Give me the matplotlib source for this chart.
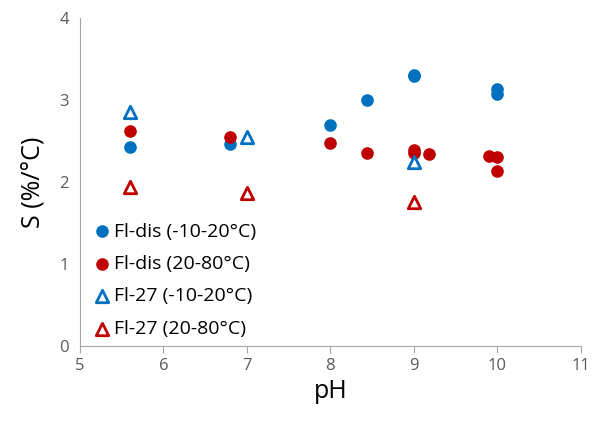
import matplotlib
matplotlib.use("Agg")
import matplotlib.pyplot as plt

# данные
fldis_cold_ph = [5.6, 6.8, 8.0, 8.44, 9.0, 9.0, 10.0, 10.0]
fldis_cold_s = [2.43, 2.46, 2.70, 3.00, 3.31, 3.29, 3.14, 3.07]
fldis_warm_ph = [5.6, 6.8, 8.0, 8.44, 9.0, 9.0, 9.18, 9.9, 10.0, 10.0]
fldis_warm_s = [2.62, 2.55, 2.48, 2.36, 2.39, 2.35, 2.34, 2.32, 2.31, 2.14]
fl27_cold_ph = [5.6, 7.0, 9.0]
fl27_cold_s = [2.85, 2.55, 2.24]
fl27_warm_ph = [5.6, 7.0, 9.0]
fl27_warm_s = [1.94, 1.87, 1.76]

BLUE = "#0070C0"
RED = "#C00000"

plt.rcParams["font.family"] = ["Open Sans", "DejaVu Sans"]

fig = plt.figure(figsize=(5.92, 4.21), dpi=100)
ax = fig.add_axes([0.135, 0.178, 0.846, 0.779])

ax.scatter(fldis_cold_ph, fldis_cold_s, s=65, color=BLUE, label="Fl-dis (-10-20°C)", zorder=3)
ax.scatter(fldis_warm_ph, fldis_warm_s, s=65, color=RED, label="Fl-dis (20-80°C)", zorder=3)
ax.scatter(fl27_cold_ph, fl27_cold_s, s=80, marker="^", facecolor="white", edgecolor=BLUE,
           linewidth=2, label="Fl-27 (-10-20°C)", zorder=3)
ax.scatter(fl27_warm_ph, fl27_warm_s, s=80, marker="^", facecolor="white", edgecolor=RED,
           linewidth=2, label="Fl-27 (20-80°C)", zorder=3)

ax.set_xlim(5, 11)
ax.set_ylim(0, 4)
ax.set_xticks(range(5, 12))
ax.set_yticks(range(0, 5))
ax.set_xlabel("pH", fontsize=18, labelpad=4)
ax.set_ylabel("S (%/°C)", fontsize=18, labelpad=10)

for side in ("top", "right"):
    ax.spines[side].set_visible(False)
for side in ("left", "bottom"):
    ax.spines[side].set_color("#A6A6A6")
ax.tick_params(axis="x", direction="out", length=5, color="#A6A6A6", labelsize=12, labelcolor="#595959")
ax.tick_params(axis="y", length=0, labelsize=12, labelcolor="#595959", pad=8)

ax.legend(loc="lower left", bbox_to_anchor=(-0.005, -0.01), frameon=False, fontsize=14,
          handletextpad=0.0, labelspacing=0.74, borderaxespad=0.2, handlelength=1.3)

fig.savefig("out.png", dpi=100)
